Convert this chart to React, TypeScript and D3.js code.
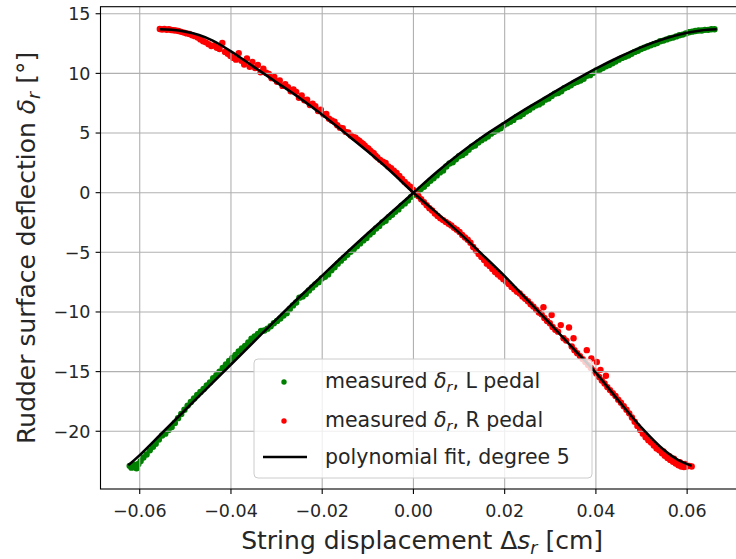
import React from 'react';
import * as d3 from 'd3';

const xTicks = [-0.06, -0.04, -0.02, 0, 0.02, 0.04, 0.06];
const xTickLabels = ['−0.06', '−0.04', '−0.02', '0.00', '0.02', '0.04', '0.06'];
const yTicks = [-20, -15, -10, -5, 0, 5, 10, 15];
const yTickLabels = ['−20', '−15', '−10', '−5', '0', '5', '10', '15'];

// measured deflection, L pedal
const measuredL: [number, number][] = [
  [-0.0622, -22.9], [-0.0618, -23.05], [-0.0612, -22.8], [-0.0607, -23.1], [-0.0603, -22.75], [-0.0598, -22.5],
  [-0.0592, -22.2], [-0.0585, -21.95], [-0.0578, -21.6], [-0.0571, -21.3], [-0.0565, -21.05], [-0.0558, -20.7],
  [-0.0551, -20.35], [-0.0544, -20.2], [-0.0537, -19.9], [-0.053, -19.65], [-0.0523, -19.3], [-0.0516, -18.9],
  [-0.0509, -18.55], [-0.0502, -18.2], [-0.0495, -17.85], [-0.0488, -17.55], [-0.0481, -17.25], [-0.0474, -16.95],
  [-0.0467, -16.7], [-0.046, -16.45], [-0.0453, -16.15], [-0.0446, -15.9], [-0.0439, -15.55], [-0.0432, -15.3],
  [-0.0425, -15.0], [-0.0418, -14.7], [-0.0411, -14.4], [-0.0404, -14.1], [-0.0397, -13.85], [-0.039, -13.6],
  [-0.0383, -13.3], [-0.0376, -13.05], [-0.0369, -12.85], [-0.0362, -12.55], [-0.0355, -12.25], [-0.0348, -12.05],
  [-0.0341, -11.85], [-0.0334, -11.6], [-0.0327, -11.55], [-0.032, -11.4], [-0.0313, -11.2], [-0.0306, -10.95],
  [-0.0299, -10.75], [-0.0292, -10.55], [-0.0285, -10.3], [-0.0278, -10.1], [-0.0271, -9.75], [-0.0264, -9.45],
  [-0.0257, -9.2], [-0.025, -8.8], [-0.0243, -8.7], [-0.0236, -8.5], [-0.0229, -8.2], [-0.0222, -7.95],
  [-0.0215, -7.7], [-0.0208, -7.5], [-0.0201, -7.2], [-0.0194, -7.05], [-0.0187, -6.85], [-0.018, -6.5],
  [-0.0173, -6.25], [-0.0166, -5.95], [-0.0159, -5.7], [-0.0152, -5.45], [-0.0145, -5.2], [-0.0138, -4.95],
  [-0.0131, -4.75], [-0.0124, -4.5], [-0.0117, -4.25], [-0.011, -4.0], [-0.0103, -3.8], [-0.0096, -3.5],
  [-0.0089, -3.3], [-0.0082, -3.0], [-0.0075, -2.8], [-0.0068, -2.5], [-0.0061, -2.35], [-0.0054, -2.05],
  [-0.0047, -1.85], [-0.004, -1.6], [-0.0033, -1.4], [-0.0026, -1.1], [-0.0019, -0.9], [-0.0012, -0.65],
  [-0.0005, -0.35], [0.0002, -0.15], [0.0009, 0.05], [0.0016, 0.3], [0.0023, 0.5], [0.003, 0.75],
  [0.0037, 1.0], [0.0044, 1.2], [0.0051, 1.45], [0.0058, 1.7], [0.0065, 1.85], [0.0072, 2.2],
  [0.0079, 2.45], [0.0086, 2.55], [0.0093, 2.8], [0.01, 3.05], [0.0107, 3.15], [0.0114, 3.35],
  [0.0121, 3.6], [0.0128, 3.85], [0.0135, 3.95], [0.0142, 4.2], [0.0149, 4.4], [0.0156, 4.55],
  [0.0163, 4.7], [0.017, 4.95], [0.0177, 5.1], [0.0184, 5.25], [0.0191, 5.4], [0.0198, 5.65],
  [0.0205, 5.8], [0.0212, 5.95], [0.0219, 6.1], [0.0226, 6.35], [0.0233, 6.4], [0.024, 6.6],
  [0.0247, 6.8], [0.0254, 6.95], [0.0261, 7.15], [0.0268, 7.3], [0.0275, 7.4], [0.0282, 7.55],
  [0.0289, 7.8], [0.0296, 7.9], [0.0303, 8.1], [0.031, 8.3], [0.0317, 8.35], [0.0324, 8.5],
  [0.0331, 8.75], [0.0338, 8.85], [0.0345, 9.0], [0.0352, 9.2], [0.0359, 9.3], [0.0366, 9.4],
  [0.0373, 9.55], [0.038, 9.8], [0.0387, 9.85], [0.0394, 10.05], [0.0401, 10.25], [0.0408, 10.3],
  [0.0415, 10.45], [0.0422, 10.6], [0.0429, 10.7], [0.0436, 10.85], [0.0443, 11.0], [0.045, 11.15],
  [0.0457, 11.3], [0.0464, 11.4], [0.0471, 11.5], [0.0478, 11.65], [0.0485, 11.8], [0.0492, 11.9],
  [0.0499, 12.05], [0.0506, 12.15], [0.0513, 12.25], [0.052, 12.35], [0.0527, 12.45], [0.0534, 12.55],
  [0.0541, 12.7], [0.0548, 12.75], [0.0555, 12.85], [0.0562, 12.95], [0.0569, 13.0], [0.0576, 13.1],
  [0.0583, 13.2], [0.059, 13.25], [0.0597, 13.35], [0.0604, 13.45], [0.0611, 13.5], [0.0618, 13.55],
  [0.0625, 13.6], [0.0632, 13.6], [0.0639, 13.65], [0.0646, 13.65], [0.0653, 13.7], [0.066, 13.7],
];

// measured deflection, R pedal
const measuredR: [number, number][] = [
  [-0.0556, 13.72], [-0.0551, 13.68], [-0.0546, 13.72], [-0.0541, 13.66], [-0.0536, 13.7], [-0.0531, 13.64],
  [-0.0526, 13.62], [-0.0521, 13.6], [-0.0515, 13.55], [-0.0509, 13.48], [-0.0503, 13.42], [-0.0497, 13.35],
  [-0.0491, 13.3], [-0.0485, 13.2], [-0.0479, 13.12], [-0.0473, 13.0], [-0.0467, 12.85], [-0.0461, 12.7],
  [-0.0455, 12.6], [-0.0449, 12.45], [-0.0443, 12.3], [-0.0437, 12.35], [-0.0431, 12.15], [-0.0425, 12.05],
  [-0.0419, 12.55], [-0.0413, 11.8], [-0.0407, 11.65], [-0.0401, 11.45], [-0.0395, 11.3], [-0.0389, 11.15],
  [-0.0383, 11.7], [-0.0377, 11.05], [-0.0371, 10.75], [-0.0365, 11.25], [-0.0359, 10.55], [-0.0353, 10.95],
  [-0.0347, 10.45], [-0.0341, 10.7], [-0.0335, 10.1], [-0.0329, 10.4], [-0.0323, 10.05], [-0.0317, 9.95],
  [-0.0311, 9.6], [-0.0305, 9.7], [-0.0299, 9.3], [-0.0293, 9.4], [-0.0287, 8.95], [-0.0281, 9.1],
  [-0.0275, 8.85], [-0.0269, 8.5], [-0.0263, 8.65], [-0.0257, 8.45], [-0.0251, 7.95], [-0.0245, 8.15],
  [-0.0239, 7.75], [-0.0233, 7.8], [-0.0227, 7.35], [-0.0221, 7.45], [-0.0215, 7.25], [-0.0209, 6.85],
  [-0.0203, 6.95], [-0.0197, 6.55], [-0.0191, 6.6], [-0.0185, 6.2], [-0.0179, 6.05], [-0.0173, 5.95],
  [-0.0167, 5.65], [-0.0161, 5.45], [-0.0155, 5.4], [-0.0149, 5.1], [-0.0143, 5.05], [-0.0137, 4.8],
  [-0.0131, 4.65], [-0.0127, 4.6], [-0.0123, 4.45], [-0.0119, 4.35], [-0.0115, 4.2], [-0.0111, 4.1],
  [-0.0107, 3.95], [-0.0103, 3.8], [-0.0099, 3.7], [-0.0095, 3.55], [-0.0091, 3.4], [-0.0087, 3.3],
  [-0.0083, 3.1], [-0.0079, 2.95], [-0.0073, 2.75], [-0.0067, 2.6], [-0.0061, 2.5], [-0.0055, 2.2],
  [-0.0049, 2.05], [-0.0043, 1.85], [-0.0037, 1.65], [-0.0031, 1.4], [-0.0025, 1.15], [-0.0019, 0.9],
  [-0.0013, 0.7], [-0.0007, 0.5], [-0.0001, 0.25], [0.0005, -0.05], [0.0011, -0.3], [0.0017, -0.55],
  [0.0023, -0.8], [0.0029, -1.05], [0.0035, -1.3], [0.0041, -1.5], [0.0047, -1.75], [0.0053, -1.95],
  [0.0059, -2.15], [0.0065, -2.3], [0.0071, -2.45], [0.0077, -2.6], [0.0083, -2.75], [0.0089, -2.95],
  [0.0095, -3.1], [0.0101, -3.3], [0.0107, -3.55], [0.0113, -3.75], [0.0119, -3.95], [0.0125, -4.2],
  [0.0131, -4.55], [0.0137, -4.85], [0.0143, -5.15], [0.0149, -5.4], [0.0155, -5.65], [0.0161, -5.95],
  [0.0167, -6.15], [0.0173, -6.4], [0.0179, -6.65], [0.0185, -6.85], [0.0191, -7.05], [0.0197, -7.25],
  [0.0203, -7.45], [0.0209, -7.65], [0.0215, -7.9], [0.0221, -8.1], [0.0227, -8.3], [0.0233, -8.45],
  [0.0239, -8.7], [0.0245, -8.9], [0.0251, -9.1], [0.0257, -9.35], [0.0263, -9.55], [0.0269, -9.8],
  [0.0275, -10.05], [0.0281, -10.2], [0.0285, -9.6], [0.0287, -10.5], [0.0293, -10.75], [0.0299, -10.95],
  [0.0303, -10.25], [0.0305, -11.25], [0.0311, -11.5], [0.0317, -11.65], [0.0323, -11.1], [0.0329, -12.2],
  [0.0335, -12.4], [0.0341, -11.3], [0.0347, -12.9], [0.0351, -12.2], [0.0353, -13.2], [0.0359, -13.45],
  [0.0365, -13.7], [0.0371, -13.95], [0.0377, -14.2], [0.038, -13.2], [0.0383, -14.45], [0.0389, -14.7],
  [0.039, -13.9], [0.0395, -14.9], [0.0401, -15.15], [0.0402, -14.2], [0.0407, -15.45], [0.041, -14.85],
  [0.0413, -15.75], [0.0419, -16.0], [0.0422, -15.35], [0.0425, -16.3], [0.0431, -16.55], [0.0437, -16.8],
  [0.0443, -17.05], [0.0449, -17.35], [0.0455, -17.6], [0.0461, -17.9], [0.0467, -18.2], [0.0473, -18.5],
  [0.0479, -18.85], [0.0485, -19.2], [0.0491, -19.55], [0.0497, -19.9], [0.0503, -20.2], [0.0509, -20.5],
  [0.0515, -20.75], [0.0521, -20.95], [0.0527, -21.2], [0.0533, -21.45], [0.0539, -21.6], [0.0545, -21.85],
  [0.0548, -21.7], [0.0551, -22.05], [0.0557, -22.25], [0.0561, -22.1], [0.0563, -22.4], [0.0569, -22.55],
  [0.0571, -22.3], [0.0575, -22.7], [0.0581, -22.85], [0.0584, -22.6], [0.0587, -22.95], [0.0593, -23.0],
  [0.0596, -22.75], [0.0599, -22.95], [0.0605, -22.9], [0.061, -22.95],
];

// polynomial fit (degree 5)
const fitL: [number, number][] = [
  [-0.0625, -22.85], [-0.06, -22.0], [-0.055, -20.1], [-0.05, -18.2], [-0.045, -16.3], [-0.04, -14.4],
  [-0.035, -12.5], [-0.03, -10.6], [-0.025, -8.75], [-0.02, -6.95], [-0.015, -5.15], [-0.01, -3.4],
  [-0.005, -1.7], [0, 0], [0.005, 1.7], [0.01, 3.25], [0.015, 4.65], [0.02, 5.9], [0.025, 7.1],
  [0.03, 8.25], [0.035, 9.35], [0.04, 10.4], [0.045, 11.35], [0.05, 12.2], [0.055, 12.9], [0.06, 13.4],
  [0.063, 13.6], [0.0665, 13.7],
];
const fitR: [number, number][] = [
  [-0.0556, 13.7], [-0.053, 13.66], [-0.05, 13.5], [-0.047, 13.22], [-0.044, 12.75], [-0.04, 11.85],
  [-0.035, 10.55], [-0.03, 9.25], [-0.025, 7.95], [-0.02, 6.54], [-0.015, 5.0], [-0.01, 3.45],
  [-0.005, 1.8], [0, 0], [0.005, -1.65], [0.01, -3.35], [0.015, -5.15], [0.02, -7.0], [0.025, -9.0],
  [0.03, -11.0], [0.035, -13.05], [0.04, -15.1], [0.045, -17.45], [0.05, -19.7], [0.055, -21.6],
  [0.058, -22.4], [0.061, -22.9],
];

const W = 736;
const H = 559;
const FONT = 'DejaVu Sans, Liberation Sans, sans-serif';

export default function App() {
  const L = 100.5, R = 743.7, T = 6.7, B = 489;
  const x = d3.scaleLinear().domain([-0.0686, 0.0724]).range([L, R]);
  const y = d3.scaleLinear().domain([-24.84, 15.59]).range([B, T]);
  const line = d3
    .line<[number, number]>()
    .x((d) => x(d[0]))
    .y((d) => y(d[1]))
    .curve(d3.curveCatmullRom.alpha(0.5));
  const gridColor = '#b0b0b0';
  const tickFs = 17.5;
  const legFs = 20.5;
  const labFs = 25;
  const rDot = 3.2;

  return (
    <svg
      width={W}
      height={H}
      viewBox={`0 0 ${W} ${H}`}
      style={{ position: 'absolute', left: 0, top: 0, display: 'block', background: '#fff' }}
      fontFamily={FONT}
    >
      <rect x={0} y={0} width={W} height={H} fill="#fff" />
      {/* scatter */}
      <g fill="#008000">
        {measuredL.map((d, i) => (
          <circle key={'l' + i} cx={x(d[0])} cy={y(d[1])} r={rDot} />
        ))}
      </g>
      <g fill="#ff0000">
        {measuredR.map((d, i) => (
          <circle key={'r' + i} cx={x(d[0])} cy={y(d[1])} r={rDot} />
        ))}
      </g>
      {/* grid */}
      <g stroke={gridColor} strokeWidth={1.1}>
        {xTicks.map((t) => (
          <line key={'gx' + t} x1={x(t)} x2={x(t)} y1={T} y2={B} />
        ))}
        {yTicks.map((t) => (
          <line key={'gy' + t} x1={L} x2={R} y1={y(t)} y2={y(t)} />
        ))}
      </g>
      {/* fits */}
      <path d={line(fitL) || ''} fill="none" stroke="#000" strokeWidth={2.6} />
      <path d={line(fitR) || ''} fill="none" stroke="#000" strokeWidth={2.6} />
      {/* spines */}
      <rect x={L} y={T} width={R - L} height={B - T} fill="none" stroke="#000" strokeWidth={1.1} />
      {/* ticks */}
      <g stroke="#000" strokeWidth={1.1}>
        {xTicks.map((t) => (
          <line key={'tx' + t} x1={x(t)} x2={x(t)} y1={B} y2={B + 4.9} />
        ))}
        {yTicks.map((t) => (
          <line key={'ty' + t} x1={L} x2={L - 4.9} y1={y(t)} y2={y(t)} />
        ))}
      </g>
      <g fontSize={tickFs} fill="#262626">
        {xTicks.map((t, i) => (
          <text key={'lx' + t} x={x(t)} y={517} textAnchor="middle">
            {xTickLabels[i]}
          </text>
        ))}
        {yTicks.map((t, i) => (
          <text key={'ly' + t} x={90.5} y={y(t) + 6.3} textAnchor="end">
            {yTickLabels[i]}
          </text>
        ))}
      </g>
      {/* axis labels */}
      <text x={(L + R) / 2} y={549} textAnchor="middle" fontSize={labFs} fill="#262626">
        String displacement Δ<tspan fontStyle="italic">s</tspan>
        <tspan fontStyle="italic" fontSize={labFs * 0.7} dy={5}>r</tspan>
        <tspan dy={-5}> [cm]</tspan>
      </text>
      <text
        transform={`translate(35, ${(T + B) / 2}) rotate(-90)`}
        textAnchor="middle"
        fontSize={labFs}
        fill="#262626"
      >
        Rudder surface deflection <tspan fontStyle="italic">δ</tspan>
        <tspan fontStyle="italic" fontSize={labFs * 0.7} dy={5}>r</tspan>
        <tspan dy={-5}> [°]</tspan>
      </text>
      {/* legend */}
      <g>
        <rect x={254} y={359} width={338} height={119} rx={4} ry={4} fill="#fff" fillOpacity={0.8} stroke="#cccccc" strokeWidth={1} />
        <circle cx={284} cy={382} r={2.7} fill="#008000" />
        <circle cx={284} cy={421} r={2.7} fill="#ff0000" />
        <line x1={263} x2={307} y1={457} y2={457} stroke="#000" strokeWidth={2.6} />
        <g fontSize={legFs} fill="#262626">
          <text x={325} y={388}>
            measured <tspan fontStyle="italic">δ</tspan>
            <tspan fontStyle="italic" fontSize={legFs * 0.7} dy={4}>r</tspan>
            <tspan dy={-4}>, L pedal</tspan>
          </text>
          <text x={325} y={427}>
            measured <tspan fontStyle="italic">δ</tspan>
            <tspan fontStyle="italic" fontSize={legFs * 0.7} dy={4}>r</tspan>
            <tspan dy={-4}>, R pedal</tspan>
          </text>
          <text x={325} y={464}>polynomial fit, degree 5</text>
        </g>
      </g>
    </svg>
  );
}
